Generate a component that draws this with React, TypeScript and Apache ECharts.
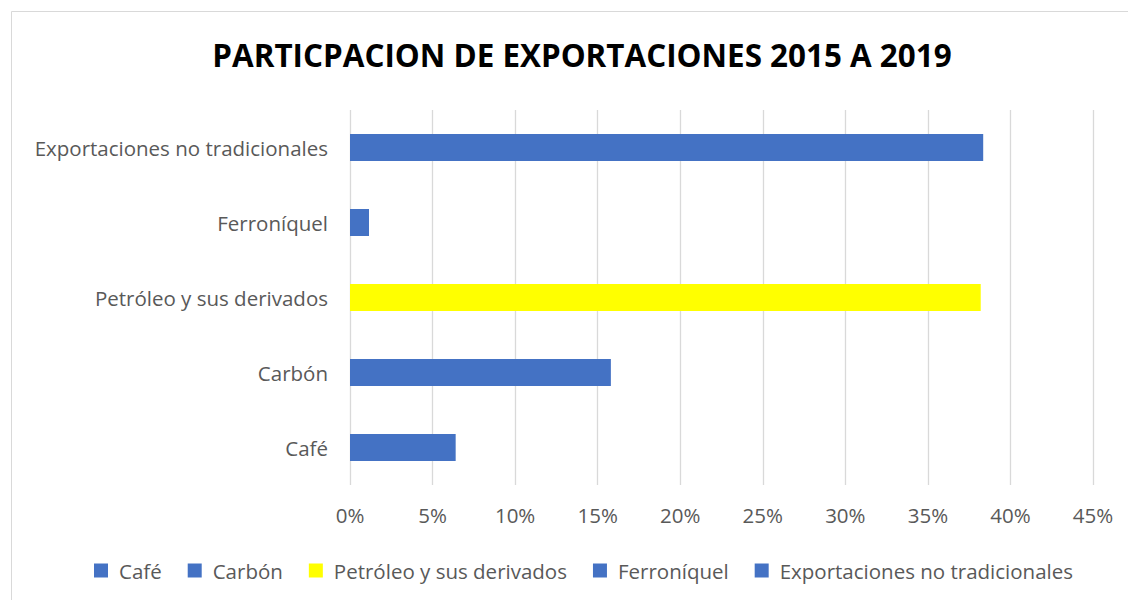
import React, { useEffect, useRef } from "react";
import * as echarts from "echarts";

const titleText = "PARTICPACION DE EXPORTACIONES 2015 A 2019";
const categories = ["Café", "Carbón", "Petróleo y sus derivados", "Ferroníquel", "Exportaciones no tradicionales"];
const values = [6.4, 15.8, 38.2, 1.15, 38.35];
const colors = ["#4472C4", "#4472C4", "#FFFF00", "#4472C4", "#4472C4"];
const xTicks = { min: 0, max: 45, interval: 5 };

export default function App() {
  const ref = useRef<HTMLDivElement>(null);
  useEffect(() => {
    const chart = echarts.init(ref.current!, null, { renderer: "svg" });
    const font = "'Open Sans', Lato, sans-serif";
    const series = categories.map((name, i) => ({
      name,
      type: "bar",
      stack: "total",
      barWidth: 27,
      itemStyle: { color: colors[i] },
      data: categories.map((_, j) => (j === i ? values[i] : "-")),
    }));
    chart.setOption({
      animation: false,
      textStyle: { fontFamily: font },
      graphic: [
        {
          type: "rect",
          shape: { x: 11.5, y: 11.5, width: 1130, height: 600 },
          style: { fill: "none", stroke: "#d9d9d9", lineWidth: 1 },
          silent: true,
        },
      ],
      title: {
        text: titleText,
        left: 577,
        textAlign: "center",
        top: 34,
        textStyle: { fontFamily: font, fontSize: 31.4, fontWeight: "bold", color: "#000000" },
      },
      grid: { left: 350, right: 35, top: 110, bottom: 115, containLabel: false },
      xAxis: {
        type: "value",
        min: xTicks.min,
        max: xTicks.max,
        interval: xTicks.interval,
        axisLabel: {
          formatter: "{value}%",
          color: "#595959",
          fontSize: 20.5,
          fontFamily: font,
          margin: 19,
        },
        axisLine: { show: false },
        axisTick: { show: false },
        splitLine: { show: true, lineStyle: { color: "#d9d9d9", width: 1.3 } },
      },
      yAxis: {
        type: "category",
        data: categories,
        axisLine: { show: false },
        axisTick: { show: false },
        axisLabel: { color: "#595959", fontSize: 20.5, fontFamily: font, margin: 22 },
      },
      legend: {
        data: categories,
        left: 89,
        top: 555,
        icon: "rect",
        itemWidth: 14,
        itemHeight: 14,
        itemGap: 26,
        textStyle: { color: "#595959", fontSize: 20.5, fontFamily: font, padding: [0, 0, 0, 6] },
      },
      series,
    });
    return () => chart.dispose();
  }, []);
  return (
    <div
      ref={ref}
      style={{ position: "absolute", left: 0, top: 0, width: 1128, height: 600, background: "#fff" }}
    />
  );
}
